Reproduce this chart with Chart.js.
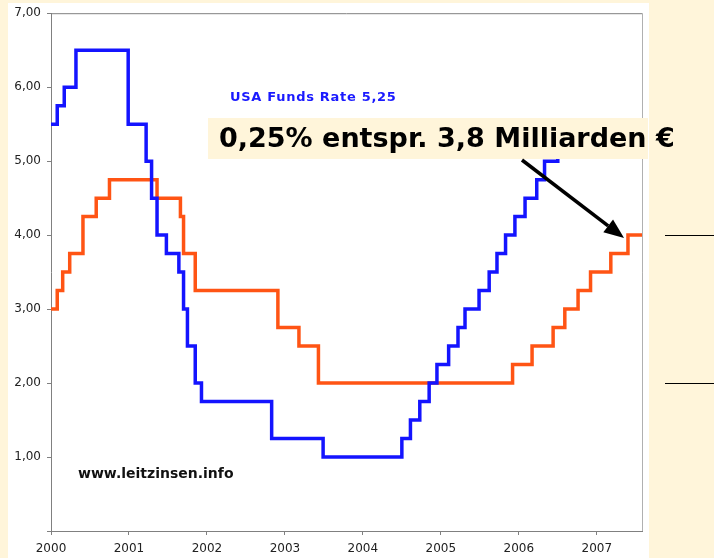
<!DOCTYPE html>
<html>
<head>
<meta charset="utf-8">
<script src="https://cdn.jsdelivr.net/npm/chart.js@4.4.1/dist/chart.umd.min.js"></script>
<style>
	html, body { margin: 0; padding: 0; background: #fff5da; }
	#wrap { width: 714px; height: 558px; }
</style>
</head>
<body>
<div id="wrap"><canvas id="chart" width="714" height="558"></canvas></div>
<script>
// Leitzinsen USA (Fed Funds) und Euroraum (EZB), Datum als Jahresbruchteil
var fedDates = [2000.0, 2000.08, 2000.17, 2000.32, 2000.99, 2001.22, 2001.29, 2001.36, 2001.48, 2001.64, 2001.70, 2001.75, 2001.85, 2001.93, 2002.83, 2003.49, 2004.50, 2004.61, 2004.73, 2004.85, 2004.95, 2005.10, 2005.22, 2005.31, 2005.49, 2005.62, 2005.72, 2005.83, 2005.95, 2006.08, 2006.23, 2006.33, 2006.50, 2007.58];
var fedRates = [5.50, 5.75, 6.00, 6.50, 5.50, 5.00, 4.50, 4.00, 3.75, 3.50, 3.00, 2.50, 2.00, 1.75, 1.25, 1.00, 1.25, 1.50, 1.75, 2.00, 2.25, 2.50, 2.75, 3.00, 3.25, 3.50, 3.75, 4.00, 4.25, 4.50, 4.75, 5.00, 5.25, 5.25];

var ecbDates = [2000.0, 2000.08, 2000.15, 2000.24, 2000.41, 2000.58, 2000.75, 2001.36, 2001.66, 2001.70, 2001.85, 2002.91, 2003.18, 2003.43, 2005.92, 2006.17, 2006.44, 2006.59, 2006.76, 2006.92, 2007.18, 2007.40, 2007.58];
var ecbRates = [3.00, 3.25, 3.50, 3.75, 4.25, 4.50, 4.75, 4.50, 4.25, 3.75, 3.25, 2.75, 2.50, 2.00, 2.25, 2.50, 2.75, 3.00, 3.25, 3.50, 3.75, 4.00, 4.00];

var yearTicks = [2000, 2001, 2002, 2003, 2004, 2005, 2006, 2007];
var rateTicks = [0, 1, 2, 3, 4, 5, 6, 7];

var fedLabel = 'USA Funds Rate 5,25';
var noteText = '0,25% entspr. 3,8 Milliarden \u20ac';
var siteText = 'www.leitzinsen.info';

function toPoints(dates, values) {
	var pts = [];
	for (var i = 0; i < dates.length; i++) {
		pts.push({ x: dates[i], y: values[i] });
	}
	return pts;
}

var FONT = '"DejaVu Sans", Verdana, sans-serif';

// Hintergrund, Rahmen und Beschriftungen
var decoPlugin = {
	id: 'deco',
	beforeDraw: function (chart) {
		var ctx = chart.ctx;
		ctx.save();
		ctx.fillStyle = '#fff5da';
		ctx.fillRect(0, 0, chart.width, chart.height);
		ctx.fillStyle = '#ffffff';
		ctx.fillRect(8, 3, 641, chart.height - 3);
		ctx.restore();
	},
	beforeDatasetsDraw: function (chart) {
		var ctx = chart.ctx;
		var a = chart.chartArea;
		ctx.save();
		ctx.lineWidth = 1;
		ctx.strokeStyle = '#808080';
		ctx.beginPath();
		ctx.moveTo(a.left, a.top + 0.5);
		ctx.lineTo(a.right, a.top + 0.5);
		ctx.stroke();
		ctx.strokeStyle = '#b0b0b0';
		ctx.beginPath();
		ctx.moveTo(a.right + 0.5, a.top);
		ctx.lineTo(a.right + 0.5, a.bottom);
		ctx.stroke();
		ctx.restore();
	},
	afterDraw: function (chart) {
		var ctx = chart.ctx;
		var xs = chart.scales.x;
		var ys = chart.scales.y;
		ctx.save();

		// kleine Linien rechts
		ctx.strokeStyle = '#000000';
		ctx.lineWidth = 1;
		ctx.beginPath();
		ctx.moveTo(665, Math.round(ys.getPixelForValue(4)) + 0.5);
		ctx.lineTo(714, Math.round(ys.getPixelForValue(4)) + 0.5);
		ctx.moveTo(665, Math.round(ys.getPixelForValue(2)) + 0.5);
		ctx.lineTo(714, Math.round(ys.getPixelForValue(2)) + 0.5);
		ctx.stroke();

		ctx.textBaseline = 'middle';
		ctx.textAlign = 'left';

		// Beschriftung Fed
		ctx.fillStyle = '#1a1aff';
		ctx.font = 'bold 13px ' + FONT;
		ctx.letterSpacing = '0.7px';
		ctx.fillText(fedLabel, 230, 98);
		ctx.letterSpacing = '0px';

		// Quelle
		ctx.fillStyle = '#111111';
		ctx.font = 'bold 14px ' + FONT;
		ctx.fillText(siteText, 78, 474);

		// Hinweisbox
		ctx.fillStyle = '#fff5da';
		ctx.fillRect(208, 118, 440, 41);
		ctx.fillStyle = '#000000';
		ctx.font = 'bold 27px ' + FONT;
		ctx.fillText(noteText, 219, 140);

		// Pfeil
		var x1 = 522, y1 = 160;
		var x2 = xs.getPixelForValue(2007.35), y2 = ys.getPixelForValue(3.96);
		var ang = Math.atan2(y2 - y1, x2 - x1);
		var hl = 20, hw = 8;
		ctx.strokeStyle = '#000000';
		ctx.lineWidth = 3.5;
		ctx.beginPath();
		ctx.moveTo(x1, y1);
		ctx.lineTo(x2 - Math.cos(ang) * hl, y2 - Math.sin(ang) * hl);
		ctx.stroke();
		ctx.beginPath();
		ctx.moveTo(x2, y2);
		ctx.lineTo(x2 - Math.cos(ang) * hl + Math.sin(ang) * hw, y2 - Math.sin(ang) * hl - Math.cos(ang) * hw);
		ctx.lineTo(x2 - Math.cos(ang) * hl - Math.sin(ang) * hw, y2 - Math.sin(ang) * hl + Math.cos(ang) * hw);
		ctx.closePath();
		ctx.fillStyle = '#000000';
		ctx.fill();

		ctx.restore();
	}
};

var ctx = document.getElementById('chart');

var chart = new Chart(ctx, {
	type: 'line',
	data: {
		datasets: [
			{
				label: 'USA',
				data: toPoints(fedDates, fedRates),
				borderColor: '#1414ff',
				borderWidth: 3.5,
				stepped: true,
				pointRadius: 0,
				fill: false
			},
			{
				label: 'EZB',
				data: toPoints(ecbDates, ecbRates),
				borderColor: '#ff5414',
				borderWidth: 3.5,
				stepped: true,
				pointRadius: 0,
				fill: false
			}
		]
	},
	options: {
		responsive: false,
		animation: false,
		devicePixelRatio: 1,
		layout: {
			padding: { left: 8, top: 11, right: 72, bottom: 0 }
		},
		plugins: {
			legend: { display: false },
			tooltip: { enabled: false }
		},
		scales: {
			x: {
				type: 'linear',
				min: 2000,
				max: 2007.58,
				afterBuildTicks: function (scale) {
					scale.ticks = yearTicks.map(function (v) { return { value: v }; });
				},
				afterFit: function (scale) { scale.height = 27; },
				grid: {
					drawOnChartArea: false,
					drawTicks: true,
					tickLength: 4,
					tickColor: '#808080'
				},
				border: { color: '#808080', width: 1 },
				ticks: {
					color: '#222222',
					font: { family: FONT, size: 12 },
					padding: 7,
					maxRotation: 0,
					callback: function (v) { return String(v); }
				}
			},
			y: {
				min: 0,
				max: 7,
				afterBuildTicks: function (scale) {
					scale.ticks = rateTicks.map(function (v) { return { value: v }; });
				},
				afterFit: function (scale) { scale.width = 43; },
				grid: {
					drawOnChartArea: false,
					drawTicks: true,
					tickLength: 4,
					tickColor: '#808080'
				},
				border: { color: '#808080', width: 1 },
				ticks: {
					color: '#222222',
					font: { family: FONT, size: 12 },
					padding: 6,
					callback: function (v) { return v === 0 ? '' : v.toFixed(2).replace('.', ','); }
				}
			}
		}
	},
	plugins: [decoPlugin]
});
</script>
</body>
</html>
